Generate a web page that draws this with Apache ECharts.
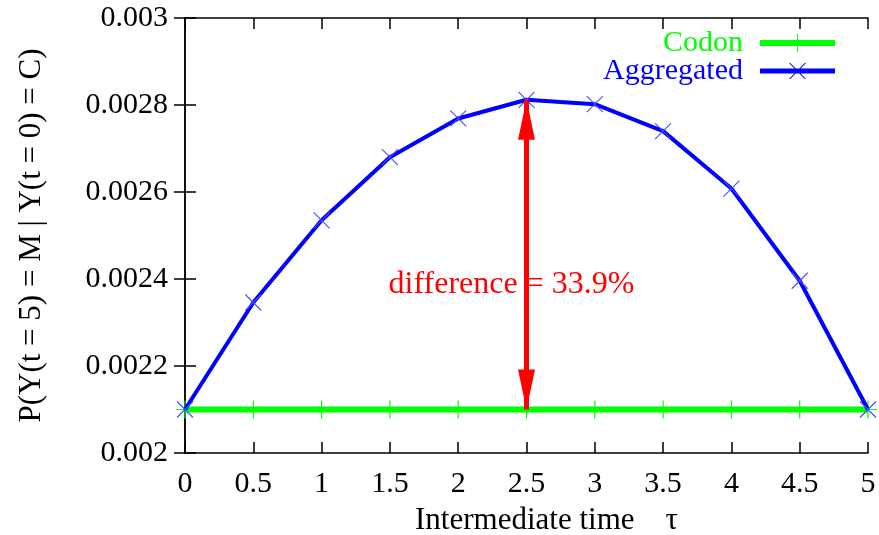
<!DOCTYPE html>
<html>
<head>
<meta charset="utf-8">
<script src="https://cdn.jsdelivr.net/npm/echarts@6/dist/echarts.min.js"></script>
<style>
  html, body { margin: 0; padding: 0; background: #ffffff; }
  #chart { width: 879px; height: 535px; }
</style>
</head>
<body>
<div id="chart"></div>
<script>
// Intermediate time tau (x values)
const tau = [0, 0.5, 1, 1.5, 2, 2.5, 3, 3.5, 4, 4.5, 5];
// P(Y(t=5)=M | Y(t=0)=C) for the codon model (flat) and the aggregated model
const codon = [0.0021, 0.0021, 0.0021, 0.0021, 0.0021, 0.0021, 0.0021, 0.0021, 0.0021, 0.0021, 0.0021];
const aggregated = [0.0021, 0.002346, 0.002535, 0.00268, 0.002769, 0.002812, 0.002802, 0.00274, 0.002608, 0.002396, 0.0021];
// Axis ranges
const xTicks = { min: 0, max: 5, step: 0.5 };
const yTicks = { min: 0.002, max: 0.003, step: 0.0002 };

const SERIF = '"Liberation Serif", "Times New Roman", serif';
const GREEN = '#00ff00';
const BLUE = '#0000ff';
const RED = '#ff0000';

// Difference annotated at the peak of the aggregated curve
const peakIdx = aggregated.indexOf(Math.max(...aggregated));
const peakTau = tau[peakIdx];
const base = codon[peakIdx];
const peak = aggregated[peakIdx];
const diffPct = ((peak - base) / base * 100).toFixed(1);

const plusMarker = 'path://M0,-9L0,9M-9,0L9,0';
const crossMarker = 'path://M-8,-8L8,8M-8,8L8,-8';
// filled arrow head whose tip sits at the symbol centre
const arrowHead = 'path://M0,0L8.5,40L-8.5,40Z M0,-40';

const codonIcon = 'path://M0,6L75,6L75,12L0,12Z M37,0L38,0L38,18L37,18Z';
const aggIcon = 'path://M0,6.5L75,6.5L75,11.5L0,11.5Z M29,1L30.3,1L46,17L44.7,17Z M44.7,1L46,1L30.3,17L29,17Z';

const chart = echarts.init(document.getElementById('chart'), null, { renderer: 'canvas' });

const tickLabelStyle = { fontFamily: SERIF, fontSize: 30, color: '#000' };
const frameLine = { show: true, lineStyle: { color: '#000', width: 1.5 } };
const innerTicks = { show: true, inside: true, length: 11, lineStyle: { color: '#000', width: 1.5 } };

chart.setOption({
  animation: false,
  backgroundColor: '#ffffff',
  grid: { left: 185, right: 11, top: 18, bottom: 82, show: false, containLabel: false, outerBoundsMode: 'none' },
  legend: {
    orient: 'vertical',
    right: 44,
    top: 28,
    padding: 0,
    align: 'right',
    itemWidth: 75,
    itemHeight: 18,
    itemGap: -2,
    selectedMode: false,
    itemStyle: { borderWidth: 0 },
    textStyle: { fontFamily: SERIF, fontSize: 30, padding: [0, 12, 0, 0] },
    data: [
      { name: 'Codon', icon: codonIcon, textStyle: { color: GREEN } },
      { name: 'Aggregated', icon: aggIcon, textStyle: { color: BLUE } }
    ]
  },
  xAxis: [
    {
      type: 'value', min: xTicks.min, max: xTicks.max, interval: xTicks.step,
      position: 'bottom',
      name: 'Intermediate time    τ',
      nameLocation: 'middle', nameGap: 52,
      nameTextStyle: { fontFamily: SERIF, fontSize: 31, color: '#000', padding: [0, 0, 0, 40] },
      axisLine: frameLine,
      axisTick: innerTicks,
      axisLabel: Object.assign({ margin: 16 }, tickLabelStyle),
      splitLine: { show: false }
    },
    {
      type: 'value', min: xTicks.min, max: xTicks.max, interval: xTicks.step,
      position: 'top',
      axisLine: frameLine,
      axisTick: innerTicks,
      axisLabel: { show: false },
      splitLine: { show: false }
    }
  ],
  yAxis: [
    {
      type: 'value', min: yTicks.min, max: yTicks.max, interval: yTicks.step,
      position: 'left',
      name: 'P(Y(t = 5) = M | Y(t = 0) = C)',
      nameLocation: 'middle', nameGap: 138,
      nameTextStyle: { fontFamily: SERIF, fontSize: 31, color: '#000' },
      axisLine: frameLine,
      axisTick: innerTicks,
      axisLabel: Object.assign({ margin: 17 }, tickLabelStyle),
      splitLine: { show: false }
    },
    {
      type: 'value', min: yTicks.min, max: yTicks.max, interval: yTicks.step,
      position: 'right',
      axisLine: frameLine,
      axisTick: innerTicks,
      axisLabel: { show: false },
      splitLine: { show: false }
    }
  ],
  series: [
    {
      name: 'Codon',
      type: 'line',
      xAxisIndex: 0, yAxisIndex: 0,
      data: tau.map((t, i) => [t, codon[i]]),
      lineStyle: { color: GREEN, width: 6 },
      symbol: plusMarker,
      symbolSize: 18,
      showSymbol: true,
      itemStyle: { color: GREEN, borderColor: GREEN, borderWidth: 1.2 },
      z: 2
    },
    {
      name: 'Aggregated',
      type: 'line',
      xAxisIndex: 0, yAxisIndex: 0,
      data: tau.map((t, i) => [t, aggregated[i]]),
      lineStyle: { color: BLUE, width: 4 },
      symbol: crossMarker,
      symbolSize: 16,
      showSymbol: true,
      itemStyle: { color: BLUE, borderColor: '#4a4aff', borderWidth: 1.1 },
      z: 3,
      markLine: {
        silent: true,
        symbol: [arrowHead, arrowHead],
        symbolSize: [17, 80],
        lineStyle: { color: RED, width: 5, type: 'solid' },
        itemStyle: { color: RED },
        label: { show: false },
        z: 5,
        data: [[
          { coord: [peakTau, base] },
          { coord: [peakTau, peak] }
        ]]
      },
      markPoint: {
        silent: true,
        symbol: 'circle',
        symbolSize: 1,
        itemStyle: { color: 'rgba(255,255,255,0)' },
        z: 4,
        label: {
          show: true,
          position: 'inside',
          formatter: 'difference = ' + diffPct + '%',
          fontFamily: SERIF, fontSize: 32, color: RED,
          offset: [-15, 30]
        },
        data: [{ coord: [peakTau, (base + peak) / 2] }]
      }
    }
  ]
});
</script>
</body>
</html>
